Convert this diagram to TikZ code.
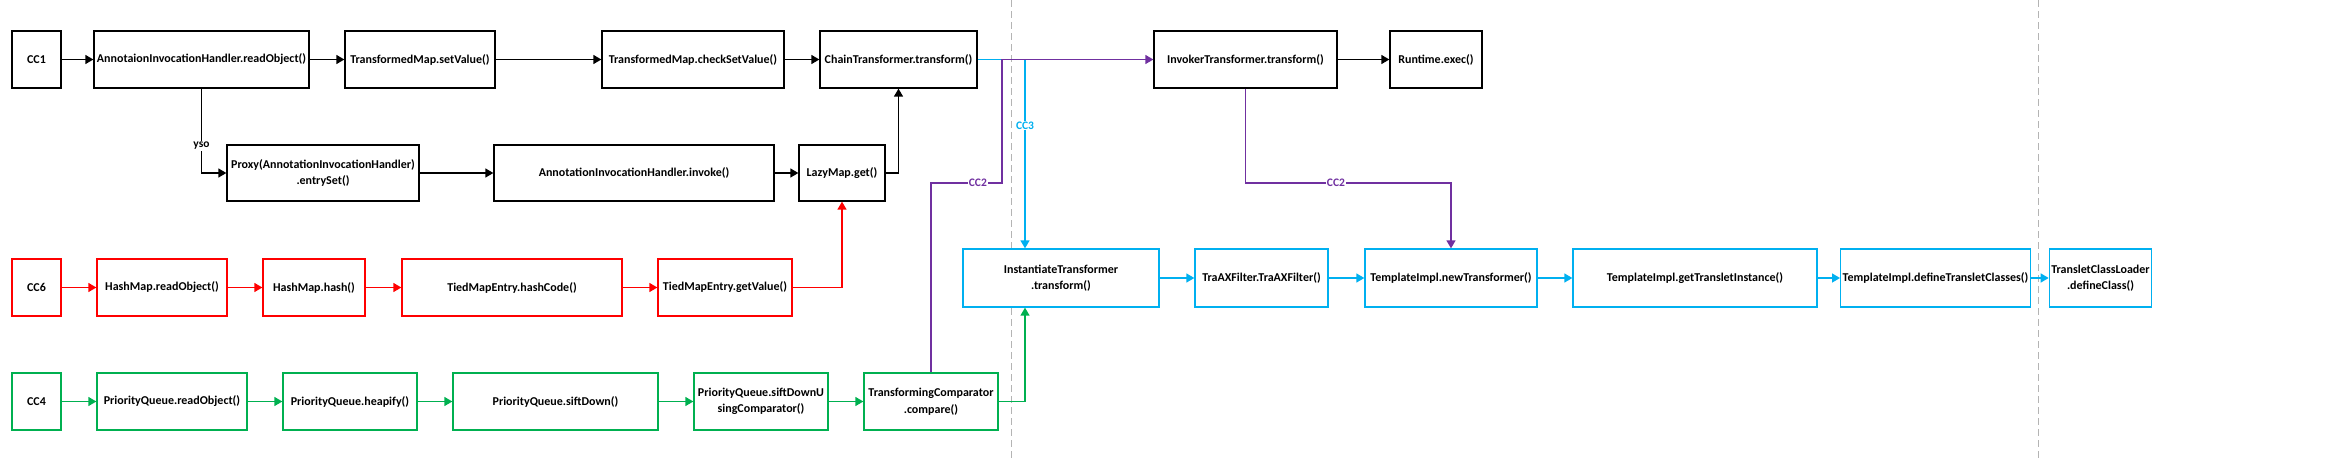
\documentclass[tikz,border=0pt]{standalone}
\usepackage{fontspec}
\setmainfont{Carlito}
\usetikzlibrary{positioning,calc}
\usetikzlibrary{arrows.meta}
\definecolor{ChainRed}{RGB}{255,0,0}
\definecolor{ChainGreen}{RGB}{0,176,80}
\definecolor{ChainCyan}{RGB}{0,176,240}
\definecolor{ChainPurple}{RGB}{112,48,160}
\definecolor{SepGray}{RGB}{180,180,180}
\tikzset{
  box/.style={draw=black,line width=1.3pt,fill=white,minimum height=57pt,inner sep=2pt,
    align=center,font=\fontsize{12}{16.5}\selectfont\bfseries},
  rbox/.style={box,draw=ChainRed},
  gbox/.style={box,draw=ChainGreen},
  cbox/.style={box,draw=ChainCyan},
  link/.style={draw=black,line width=1.4pt,-{Triangle[length=8pt,width=9pt]}},
  rlink/.style={link,draw=ChainRed},
  glink/.style={link,draw=ChainGreen},
  clink/.style={link,draw=ChainCyan},
  plink/.style={link,draw=ChainPurple},
  tag/.style={fill=white,inner sep=1pt,font=\fontsize{11.5}{12}\selectfont\bfseries},
  sep/.style={draw=SepGray,line width=1pt,dash pattern=on 7pt off 4pt},
}

\begin{document}
\begin{tikzpicture}[x=1pt,y=-1pt]
\useasboundingbox (0,0) rectangle (2338,461);
% separators
\draw[sep] (1011,0) -- (1011,461);
\draw[sep] (2038,0) -- (2038,461);
% CC1
\node[box,minimum width=49pt] (cc1) at (36.5,59.5) {CC1};
\node[box,minimum width=215pt] (aihRead) at (201.5,59.5) {AnnotaionInvocationHandler.readObject()};
\node[box,minimum width=150pt] (tmSet) at (420,59.5) {TransformedMap.setValue()};
\node[box,minimum width=182pt] (tmCheck) at (693,59.5) {TransformedMap.checkSetValue()};
\node[box,minimum width=157pt] (chainT) at (898.5,59.5) {ChainTransformer.transform()};
\node[box,minimum width=183pt] (invokerT) at (1245.5,59.5) {InvokerTransformer.transform()};
\node[box,minimum width=92pt] (rtExec) at (1436,59.5) {Runtime.exec()};
\node[box,minimum width=192pt,minimum height=56pt] (proxy) at (323,173) {Proxy(AnnotationInvocationHandler)\\.entrySet()};
\node[box,minimum width=280pt,minimum height=56pt] (aihInvoke) at (634,173) {AnnotationInvocationHandler.invoke()};
\node[box,minimum width=86pt,minimum height=56pt] (lazyGet) at (842,173) {LazyMap.get()};
% CC6
\node[rbox,minimum width=49pt] (cc6) at (36.5,287.5) {CC6};
\node[rbox,minimum width=130pt] (hmRead) at (162,287.5) {HashMap.readObject()};
\node[rbox,minimum width=102pt] (hmHash) at (314,287.5) {HashMap.hash()};
\node[rbox,minimum width=220pt] (tmeHash) at (512,287.5) {TiedMapEntry.hashCode()};
\node[rbox,minimum width=134pt] (tmeGet) at (725,287.5) {TiedMapEntry.getValue()};
% CC4
\node[gbox,minimum width=49pt] (cc4) at (36.5,401.5) {CC4};
\node[gbox,minimum width=150pt] (pqRead) at (172,401.5) {PriorityQueue.readObject()};
\node[gbox,minimum width=134pt] (pqHeap) at (350,401.5) {PriorityQueue.heapify()};
\node[gbox,minimum width=205pt] (pqSift) at (555.5,401.5) {PriorityQueue.siftDown()};
\node[gbox,minimum width=134pt] (pqSiftCmp) at (761,401.5) {PriorityQueue.siftDownU\\singComparator()};
\node[gbox,minimum width=134pt] (tcCompare) at (931,401.5) {TransformingComparator\\.compare()};
% CC3 / TemplatesImpl
\node[cbox,minimum width=196pt,minimum height=58pt] (itTrans) at (1061,278) {InstantiateTransformer\\.transform()};
\node[cbox,minimum width=133pt,minimum height=58pt] (traxF) at (1261.5,278) {TraAXFilter.TraAXFilter()};
\node[cbox,minimum width=172pt,minimum height=58pt] (tiNew) at (1451,278) {TemplateImpl.newTransformer()};
\node[cbox,minimum width=244pt,minimum height=58pt] (tiGet) at (1695,278) {TemplateImpl.getTransletInstance()};
\node[cbox,minimum width=173pt,minimum height=58pt] (tiDefine) at (1935.5,278) {TemplateImpl.defineTransletClasses()};
\node[cbox,minimum width=95pt,minimum height=58pt] (tclDefine) at (2100.5,278) {TransletClassLoader\\.defineClass()};
\coordinate (cc2a) at (1002,183);
\coordinate (cc2b) at (1451,183);
% black links
\draw[link] (cc1) -- (aihRead);
\draw[link] (aihRead) -- (tmSet);
\draw[link] (tmSet) -- (tmCheck);
\draw[link] (tmCheck) -- (chainT);
\draw[link] (invokerT) -- (rtExec);
\draw[link] (aihRead.south) |- node[tag,pos=0.34]{yso} (proxy.west);
\draw[link] (proxy) -- (aihInvoke);
\draw[link] (aihInvoke) -- (lazyGet);
\draw[link] (lazyGet.east) -| (chainT.south);
% red links
\draw[rlink] (cc6) -- (hmRead);
\draw[rlink] (hmRead) -- (hmHash);
\draw[rlink] (hmHash) -- (tmeHash);
\draw[rlink] (tmeHash) -- (tmeGet);
\draw[rlink] (tmeGet.east) -| (lazyGet.south);
% green links
\draw[glink] (cc4) -- (pqRead);
\draw[glink] (pqRead) -- (pqHeap);
\draw[glink] (pqHeap) -- (pqSift);
\draw[glink] (pqSift) -- (pqSiftCmp);
\draw[glink] (pqSiftCmp) -- (tcCompare);
\draw[glink] (tcCompare.east) -| ([xshift=-36pt]itTrans.south);
% cyan links
\draw[clink] (chainT.east) -| node[tag,pos=0.675,text=ChainCyan]{CC3} ([xshift=-36pt]itTrans.north);
\draw[clink] (itTrans) -- (traxF);
\draw[clink] (traxF) -- (tiNew);
\draw[clink] (tiNew) -- (tiGet);
\draw[clink] (tiGet) -- (tiDefine);
\draw[clink] (tiDefine) -- (tclDefine);
% purple links
\draw[plink] (tcCompare.north) |- node[tag,pos=0.83,text=ChainPurple]{CC2} (cc2a) |- (invokerT.west);
\draw[plink] (invokerT.south) |- node[tag,pos=0.72,text=ChainPurple]{CC2} (cc2b) -- (tiNew.north);
\end{tikzpicture}
\end{document}
